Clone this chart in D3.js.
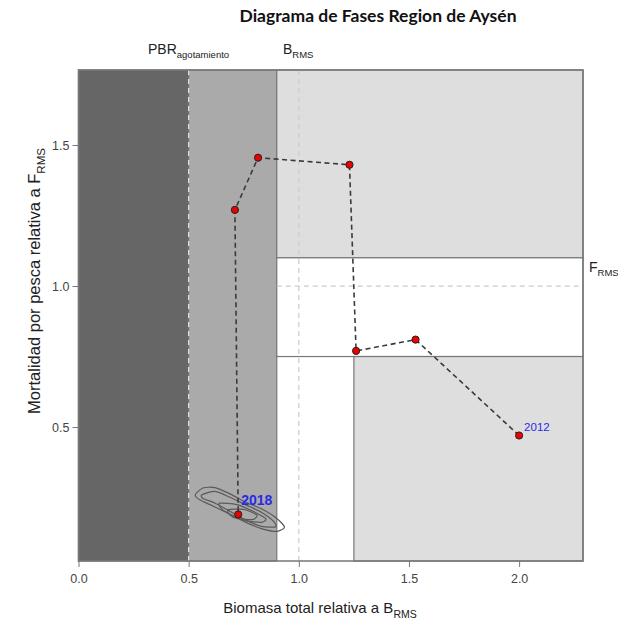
<!DOCTYPE html>
<html>
<head>
<meta charset="utf-8">
<script src="https://cdn.jsdelivr.net/npm/d3@7"></script>
<style>
  body { margin: 0; background: #fff; }
  svg { display: block; }
</style>
</head>
<body>
<svg id="chart" width="618" height="626"></svg>
<script>
// trajectory 2012 -> 2018
const years = [2012, 2013, 2014, 2015, 2016, 2017, 2018];
const biomasa = [2.0, 1.53, 1.26, 1.23, 0.815, 0.71, 0.725];
const mortalidad = [0.47, 0.81, 0.77, 1.43, 1.455, 1.27, 0.19];

// reference points
const pbrAgotamiento = 0.5;
const bRms = 1.0;
const fRms = 1.0;

// zone limits (x0, x1, y0, y1)
const zoneX0 = [0, 0.5, 0.9, 0.9, 1.25];
const zoneX1 = [0.5, 0.9, 2.29, 2.29, 2.29];
const zoneY0 = [0.025, 0.025, 1.1, 0.75, 0.025];
const zoneY1 = [1.766, 1.766, 1.766, 1.1, 0.75];

const xTicks = [0.0, 0.5, 1.0, 1.5, 2.0];
const yTicks = [0.5, 1.0, 1.5];

// uncertainty contours around last year (x, y)
const contour1 = [[0.53,0.26],[0.565,0.284],[0.62,0.285],[0.69,0.262],[0.757,0.234],[0.83,0.21],[0.9,0.176],[0.935,0.145],[0.90,0.13],[0.83,0.14],[0.76,0.162],[0.69,0.19],[0.61,0.22],[0.55,0.242]];
const contour2 = [[0.56,0.26],[0.62,0.272],[0.69,0.25],[0.76,0.224],[0.83,0.198],[0.885,0.166],[0.895,0.146],[0.83,0.148],[0.76,0.17],[0.69,0.2],[0.62,0.23],[0.565,0.247]];
const contour3 = [[0.64,0.23],[0.72,0.225],[0.79,0.202],[0.85,0.175],[0.83,0.162],[0.76,0.168],[0.69,0.19],[0.65,0.21]];
const contour4 = [[0.68,0.207],[0.75,0.208],[0.81,0.188],[0.79,0.172],[0.72,0.176],[0.685,0.19]];
const contours = [contour1, contour2, contour3, contour4];

const zoneFill = ["#666666", "#aaaaaa", "#dedede", "#ffffff", "#dedede"];

const svg = d3.select("#chart");
const plotLeft = 78.5, plotRight = 583, plotTop = 70, plotBottom = 561;

const x = d3.scaleLinear().domain([0, 2.29]).range([plotLeft, plotRight]);
const y = d3.scaleLinear().domain([0.025, 1.766]).range([plotBottom, plotTop]);

// zones
svg.append("g")
  .selectAll("rect")
  .data(zoneX0)
  .join("rect")
  .attr("x", (d, i) => x(zoneX0[i]))
  .attr("y", (d, i) => y(zoneY1[i]))
  .attr("width", (d, i) => x(zoneX1[i]) - x(zoneX0[i]))
  .attr("height", (d, i) => y(zoneY0[i]) - y(zoneY1[i]))
  .style("fill", (d, i) => zoneFill[i])
  .style("stroke", "#777")
  .style("stroke-width", 1.2);

// reference lines
svg.append("line")
  .attr("x1", x(pbrAgotamiento)).attr("x2", x(pbrAgotamiento))
  .attr("y1", plotTop).attr("y2", plotBottom)
  .style("stroke", "#e0e0e0").style("stroke-width", 1.3)
  .style("stroke-dasharray", "5,4");
svg.append("line")
  .attr("x1", x(bRms)).attr("x2", x(bRms))
  .attr("y1", plotTop).attr("y2", plotBottom)
  .style("stroke", "#cccccc").style("stroke-width", 1.2)
  .style("stroke-dasharray", "5,4");
svg.append("line")
  .attr("x1", x(0.9)).attr("x2", plotRight)
  .attr("y1", y(fRms)).attr("y2", y(fRms))
  .style("stroke", "#cccccc").style("stroke-width", 1.2)
  .style("stroke-dasharray", "5,4");

// outer box
svg.append("rect")
  .attr("x", plotLeft).attr("y", plotTop)
  .attr("width", plotRight - plotLeft).attr("height", plotBottom - plotTop)
  .style("fill", "none").style("stroke", "#777").style("stroke-width", 1.5);

// contours
const contourLine = d3.line()
  .x(d => x(d[0])).y(d => y(d[1]))
  .curve(d3.curveCardinalClosed.tension(0.3));
svg.append("g")
  .selectAll("path")
  .data(contours)
  .join("path")
  .attr("d", contourLine)
  .style("fill", "none")
  .style("stroke", "#5a5a5a")
  .style("stroke-width", 1.2);

// trajectory
const pts = years.map((yr, i) => ({ year: yr, b: biomasa[i], f: mortalidad[i] }));
svg.append("path")
  .datum(pts)
  .attr("d", d3.line().x(d => x(d.b)).y(d => y(d.f)))
  .style("fill", "none")
  .style("stroke", "#3a3a3a")
  .style("stroke-width", 1.6)
  .style("stroke-dasharray", "5,3.5");
svg.append("g")
  .selectAll("circle")
  .data(pts)
  .join("circle")
  .attr("cx", d => x(d.b))
  .attr("cy", d => y(d.f))
  .attr("r", 3.6)
  .style("fill", "#ee0000")
  .style("stroke", "#222")
  .style("stroke-width", 1);

// year labels
const first = pts[0], last = pts[pts.length - 1];
svg.append("text")
  .attr("x", x(first.b) + 5).attr("y", y(first.f) - 5)
  .style("font-family", "Liberation Sans, Arial, sans-serif")
  .style("font-size", "11.5px").style("fill", "#2a2ae6")
  .text(first.year);
svg.append("text")
  .attr("x", x(last.b) + 3).attr("y", y(last.f) - 9)
  .style("font-family", "Liberation Sans, Arial, sans-serif")
  .style("font-weight", "bold")
  .style("font-size", "14px").style("fill", "#2a2ae6")
  .text(last.year);

// axes
const xAxis = d3.axisBottom(x).tickValues(xTicks).tickFormat(d3.format(".1f")).tickSize(6);
const gx = svg.append("g").attr("transform", `translate(0,${plotBottom})`).call(xAxis);
gx.select(".domain").remove();
gx.selectAll("line").style("stroke", "#777");
gx.selectAll("text")
  .attr("dy", "1.05em")
  .style("font-family", "Liberation Sans, Arial, sans-serif")
  .style("font-size", "12.5px").style("fill", "#444");

const yAxis = d3.axisLeft(y).tickValues(yTicks).tickFormat(d3.format(".1f")).tickSize(6);
const gy = svg.append("g").attr("transform", `translate(${plotLeft},0)`).call(yAxis);
gy.select(".domain").remove();
gy.selectAll("line").style("stroke", "#777");
gy.selectAll("text")
  .attr("x", -9)
  .style("font-family", "Liberation Sans, Arial, sans-serif")
  .style("font-size", "12.5px").style("fill", "#444");

// text helper with subscript
function subLabel(g, px, py, main, sub, size, subSize, anchor) {
  const t = g.append("text")
    .attr("x", px).attr("y", py)
    .attr("text-anchor", anchor || "start")
    .style("font-family", "Liberation Sans, Arial, sans-serif")
    .style("font-size", size + "px").style("fill", "#222");
  t.append("tspan").text(main);
  t.append("tspan").attr("dy", size * 0.3).style("font-size", subSize + "px").text(sub);
  return t;
}

subLabel(svg, 148, 54, "PBR", "agotamiento", 14, 9.5);
subLabel(svg, 283, 54, "B", "RMS", 14, 9.5);
subLabel(svg, 589, 272, "F", "RMS", 14, 9.5);

subLabel(svg, 320, 613, "Biomasa total relativa a B", "RMS", 15, 10.5, "middle");
const yl = svg.append("g").attr("transform", "translate(40,281) rotate(-90)");
subLabel(yl, 0, 0, "Mortalidad por pesca relativa a F", "RMS", 16.5, 11.5, "middle");

// title
svg.append("text")
  .attr("x", 378).attr("y", 22)
  .attr("text-anchor", "middle")
  .style("font-family", "Lato, sans-serif")
  .style("font-weight", "bold")
  .style("font-size", "17.5px").style("fill", "#111")
  .text("Diagrama de Fases Region de Aysén");
</script>
</body>
</html>
